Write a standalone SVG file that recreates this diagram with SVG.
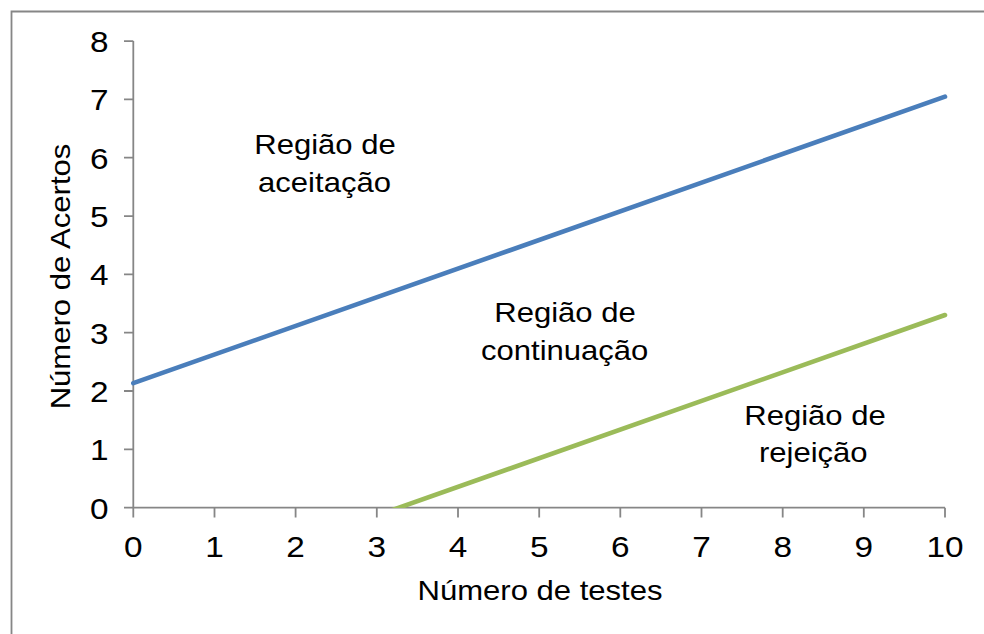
<svg xmlns="http://www.w3.org/2000/svg" width="984" height="634" viewBox="0 0 984 634">
<style>
text{font-family:"Liberation Sans",Arial,sans-serif;fill:#000}
.tk{font-size:29px}
.lb{font-size:27px}
.ax{stroke:#868686;stroke-width:1.8;fill:none}
</style>
<defs>
<clipPath id="plot"><rect x="133" y="30" width="830" height="478"/></clipPath>
</defs>
<rect width="984" height="634" fill="#fff"/>
<path class="ax" d="M11.5 640 V11.5 H990"/>
<g id="axes">
<path class="ax" d="M133.3 41.1 V517.5 M124 507.7 H945 M124 41.1 H133.3 M124 99.4 H133.3 M124 157.7 H133.3 M124 216.1 H133.3 M124 274.4 H133.3 M124 332.7 H133.3 M124 391 H133.3 M124 449.4 H133.3 M214.5 507.7 V517.5 M295.6 507.7 V517.5 M376.8 507.7 V517.5 M458 507.7 V517.5 M539.2 507.7 V517.5 M620.3 507.7 V517.5 M701.5 507.7 V517.5 M782.7 507.7 V517.5 M863.8 507.7 V517.5 M945 507.7 V517.5"/>
<g class="tk" text-anchor="end">
<text transform="translate(108.5,52) scale(1.15,1)">8</text>
<text transform="translate(108.5,110.4) scale(1.15,1)">7</text>
<text transform="translate(108.5,168.7) scale(1.15,1)">6</text>
<text transform="translate(108.5,227.1) scale(1.15,1)">5</text>
<text transform="translate(108.5,285.4) scale(1.15,1)">4</text>
<text transform="translate(108.5,343.7) scale(1.15,1)">3</text>
<text transform="translate(108.5,402) scale(1.15,1)">2</text>
<text transform="translate(108.5,460.4) scale(1.15,1)">1</text>
<text transform="translate(108.5,518.7) scale(1.15,1)">0</text>
</g>
<g class="tk" text-anchor="middle">
<text transform="translate(133.3,557) scale(1.15,1)">0</text>
<text transform="translate(214.5,557) scale(1.15,1)">1</text>
<text transform="translate(295.6,557) scale(1.15,1)">2</text>
<text transform="translate(376.8,557) scale(1.15,1)">3</text>
<text transform="translate(458,557) scale(1.15,1)">4</text>
<text transform="translate(539.2,557) scale(1.15,1)">5</text>
<text transform="translate(620.3,557) scale(1.15,1)">6</text>
<text transform="translate(701.5,557) scale(1.15,1)">7</text>
<text transform="translate(782.7,557) scale(1.15,1)">8</text>
<text transform="translate(863.8,557) scale(1.15,1)">9</text>
<text transform="translate(945,557) scale(1.15,1)">10</text>
</g>
<text class="lb" text-anchor="middle" transform="translate(540,599.5) scale(1.15,1)">Número de testes</text>
<text class="lb" text-anchor="middle" transform="translate(70,276.5) rotate(-90) scale(1.15,1)">Número de Acertos</text>
</g>
<g id="connectors" fill="none" stroke-linecap="round" stroke-width="4.6">
<line id="aceitacao-line" x1="133.3" y1="383.2" x2="945" y2="96.7" stroke="#4A7EBB"/>
<line id="rejeicao-line" x1="385" y1="512.6" x2="945" y2="315" stroke="#9BBB59" clip-path="url(#plot)"/>
</g>
<g id="regiao-aceitacao" class="lb" text-anchor="middle">
<text transform="translate(325,154) scale(1.15,1)">Região de</text>
<text transform="translate(324.5,192) scale(1.15,1)">aceitação</text>
</g>
<g id="regiao-continuacao" class="lb" text-anchor="middle">
<text transform="translate(565,322) scale(1.15,1)">Região de</text>
<text transform="translate(564.7,360) scale(1.15,1)">continuação</text>
</g>
<g id="regiao-rejeicao" class="lb" text-anchor="middle">
<text transform="translate(815,425) scale(1.15,1)">Região de</text>
<text transform="translate(813.3,462) scale(1.15,1)">rejeição</text>
</g>
</svg>
